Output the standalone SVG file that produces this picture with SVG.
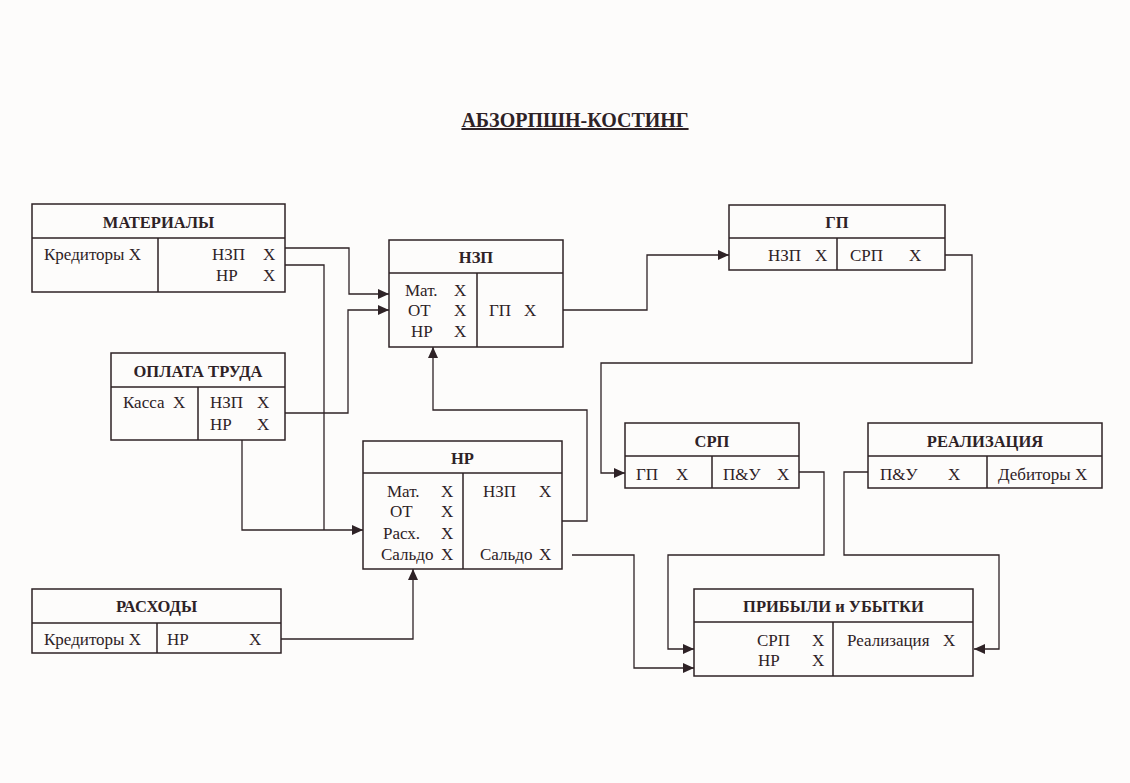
<svg xmlns="http://www.w3.org/2000/svg" width="1130" height="783" viewBox="0 0 1130 783" font-family="'Liberation Serif', 'Times New Roman', 'DejaVu Serif', serif">
<defs>
<style>
.bg{fill:#fdfcfb}
.box{fill:none;stroke:#2e2226;stroke-width:1.5}
.c{fill:none;stroke:#2e2226;stroke-width:1.3}
text{font-family:'Liberation Serif','Times New Roman','DejaVu Serif',serif;font-size:17px;fill:#2e2226}
.h{font-weight:bold;font-size:16.5px;text-anchor:middle}
.title{font-weight:bold;font-size:20px;text-anchor:middle;text-decoration:underline}
</style>
<marker id="arr" markerUnits="userSpaceOnUse" markerWidth="11" markerHeight="10" refX="11" refY="5" orient="auto">
<path d="M0,0 L11,5 L0,10 z" fill="#2e2226"/>
</marker>
</defs>
<rect class="bg" x="0" y="0" width="1130" height="783"/>
<text class="title" x="575" y="127">АБЗОРПШН-КОСТИНГ</text>

<g id="connectors">
<path class="c" d="M285,248 H349 V294 H389" marker-end="url(#arr)"/>
<path class="c" d="M285,265 H324 V530"/>
<path class="c" d="M242,440 V530 H363" marker-end="url(#arr)"/>
<path class="c" d="M285,413 H348 V310 H389" marker-end="url(#arr)"/>
<path class="c" d="M562,521 H587 V410 H433 V347" marker-end="url(#arr)"/>
<path class="c" d="M563,310 H647 V255 H729" marker-end="url(#arr)"/>
<path class="c" d="M945,255 H972 V363 H601 V473 H625" marker-end="url(#arr)"/>
<path class="c" d="M799,472 H824 V555 H668 V649 H694" marker-end="url(#arr)"/>
<path class="c" d="M868,472 H844 V555 H999 V649 H974" marker-end="url(#arr)"/>
<path class="c" d="M572,555 H634 V668 H694" marker-end="url(#arr)"/>
<path class="c" d="M281,639 H413 V569" marker-end="url(#arr)"/>
</g>

<g id="materials">
<rect class="box" x="32" y="204" width="253" height="88"/>
<path class="box" d="M32,238 H285 M158,238 V292"/>
<text class="h" x="158.5" y="228">МАТЕРИАЛЫ</text>
<text x="44" y="260">Кредиторы Х</text>
<text x="212" y="260">НЗП</text><text x="263" y="260">Х</text>
<text x="216" y="281">НР</text><text x="263" y="281">Х</text>
</g>

<g id="labor">
<rect class="box" x="111" y="353" width="174" height="87"/>
<path class="box" d="M111,387 H285 M198,387 V440"/>
<text class="h" x="198" y="377">ОПЛАТА ТРУДА</text>
<text x="123" y="408">Касса</text><text x="173" y="408">Х</text>
<text x="210" y="408">НЗП</text><text x="257" y="408">Х</text>
<text x="210" y="430">НР</text><text x="257" y="430">Х</text>
</g>

<g id="wip">
<rect class="box" x="389" y="240" width="174" height="107"/>
<path class="box" d="M389,273 H563 M477,273 V347"/>
<text class="h" x="476" y="263">НЗП</text>
<text x="405" y="296">Мат.</text><text x="454" y="296">Х</text>
<text x="408" y="316">ОТ</text><text x="454" y="316">Х</text>
<text x="411" y="337">НР</text><text x="454" y="337">Х</text>
<text x="489" y="316">ГП</text><text x="524" y="316">Х</text>
</g>

<g id="overhead">
<rect class="box" x="363" y="441" width="199" height="128"/>
<path class="box" d="M363,473 H562 M463,473 V569"/>
<text class="h" x="462.5" y="464">НР</text>
<text x="387" y="497">Мат.</text><text x="441" y="497">Х</text>
<text x="390" y="517">ОТ</text><text x="441" y="517">Х</text>
<text x="383" y="539">Расх.</text><text x="441" y="539">Х</text>
<text x="381" y="560">Сальдо</text><text x="441" y="560">Х</text>
<text x="483" y="497">НЗП</text><text x="539" y="497">Х</text>
<text x="480" y="560">Сальдо</text><text x="539" y="560">Х</text>
</g>

<g id="expenses">
<rect class="box" x="32" y="589" width="249" height="64"/>
<path class="box" d="M32,623 H281 M157,623 V653"/>
<text class="h" x="156.5" y="612">РАСХОДЫ</text>
<text x="44" y="645">Кредиторы Х</text>
<text x="167" y="645">НР</text><text x="249" y="645">Х</text>
</g>

<g id="finished">
<rect class="box" x="729" y="205" width="216" height="65"/>
<path class="box" d="M729,238 H945 M837,238 V270"/>
<text class="h" x="837" y="228">ГП</text>
<text x="768" y="261">НЗП</text><text x="815" y="261">Х</text>
<text x="850" y="261">СРП</text><text x="909" y="261">Х</text>
</g>

<g id="cogs">
<rect class="box" x="625" y="423" width="174" height="65"/>
<path class="box" d="M625,456 H799 M712,456 V488"/>
<text class="h" x="712" y="447">СРП</text>
<text x="636" y="480">ГП</text><text x="676" y="480">Х</text>
<text x="723" y="480">П&amp;У</text><text x="777" y="480">Х</text>
</g>

<g id="sales">
<rect class="box" x="868" y="423" width="234" height="65"/>
<path class="box" d="M868,456 H1102 M987,456 V488"/>
<text class="h" x="985" y="447">РЕАЛИЗАЦИЯ</text>
<text x="880" y="480">П&amp;У</text><text x="948" y="480">Х</text>
<text x="998" y="480">Дебиторы Х</text>
</g>

<g id="pl">
<rect class="box" x="694" y="589" width="279" height="87"/>
<path class="box" d="M694,622 H973 M833,622 V676"/>
<text class="h" x="833.5" y="612">ПРИБЫЛИ и УБЫТКИ</text>
<text x="757" y="646">СРП</text><text x="812" y="646">Х</text>
<text x="758" y="666">НР</text><text x="812" y="666">Х</text>
<text x="847" y="646">Реализация</text><text x="943" y="646">Х</text>
</g>
</svg>
